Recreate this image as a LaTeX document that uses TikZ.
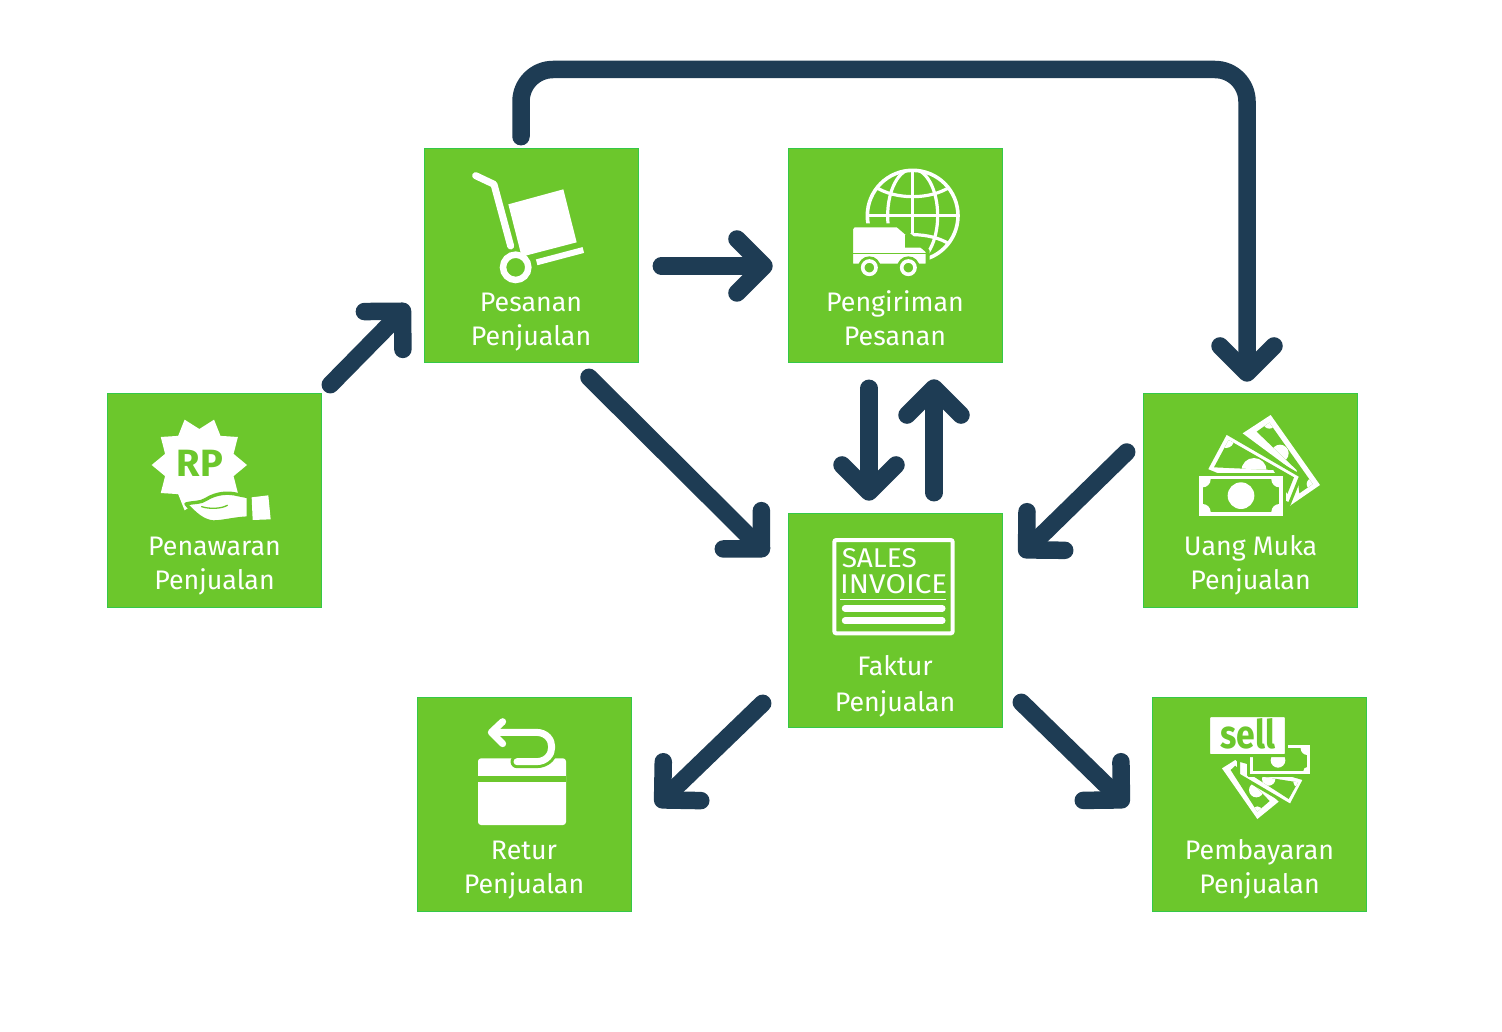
\documentclass[tikz,border=0pt]{standalone}
\usepackage{fontspec}
\setmainfont{Fira Sans}
\usetikzlibrary{arrows.meta}
\definecolor{boxgreen}{RGB}{108,199,44}
\definecolor{boxedge}{RGB}{52,200,72}
\definecolor{navy}{RGB}{30,60,84}
\tikzset{
  flowbox/.style={draw=boxedge,line width=1.6pt,fill=boxgreen,minimum size=214pt,inner sep=0pt,outer sep=0.8pt},
  caption/.style={text=white,align=center,inner sep=0pt,font=\fontsize{26.8}{34}\selectfont},
  conn/.style={draw=navy,line width=17.5pt,line cap=round,line join=round,
    -{Straight Barb[round,length=27pt,width=54pt]}},
  zm/.style={x=.33333pt,y=-.33333pt},
  ink/.style={fill=white,draw=none},
  cut/.style={fill=boxgreen,draw=none},
  halo/.style={fill=white,draw=boxgreen,line width=3pt,line join=round},
  stroke/.style={draw=white,line cap=round,line join=round},
  gstroke/.style={draw=boxgreen,line cap=round,line join=round},
}
\begin{document}
\begin{tikzpicture}[x=1pt,y=-1pt]
\useasboundingbox (0,0) rectangle (1502,1032);
\fill[white] (0,0) rectangle (1502,1032);
% boxes
\node[flowbox] (pen) at (214.5,500.5) {};
\node[flowbox] (pes) at (531.5,255.5) {};
\node[flowbox] (kir) at (895.5,255.5) {};
\node[flowbox] (uang) at (1250.5,500.5) {};
\node[flowbox] (fak) at (895.5,620.5) {};
\node[flowbox] (ret) at (524.5,804.5) {};
\node[flowbox] (bay) at (1259.5,804.5) {};
% captions
\node[caption] (penc) at (214.5,566) {Penawaran\\Penjualan};
\node[caption] (pesc) at (531,322) {Pesanan\\Penjualan};
\node[caption] (kirc) at (895,318) {Pengiriman\\Pesanan};
\node[caption] (uangc) at (1250.5,565) {Uang Muka\\Penjualan};
\node[caption,font=\fontsize{26.8}{36}\selectfont] (fakc) at (895,686) {Faktur\\Penjualan};
\node[caption] (retc) at (524,870) {Retur\\Penjualan};
\node[caption] (bayc) at (1259.5,869) {Pembayaran\\Penjualan};
% connectors
\coordinate (toprun) at (880,69.5);
\draw[conn] ([shift={(8,-8)}]pen.north east) -- ([shift={(-15,49.5)}]pes.west);
\draw[conn] ([shift={(22,10.5)}]pes.east) -- ([shift={(-15,10.5)}]kir.west);
\draw[conn] ([shift={(-26.5,25)}]kir.south) -- ([shift={(-26.5,-12)}]fak.north);
\draw[conn] ([shift={(38.5,-20)}]fak.north) -- ([shift={(38.5,16)}]kir.south);
\draw[conn] ([shift={(57.5,14)}]pes.south) -- ([shift={(-20,-65.5)}]fak.west);
\draw[conn] ([shift={(-16,-48.5)}]uang.west) -- ([shift={(17,-64.5)}]fak.east);
\draw[conn] ([shift={(-25,-25)}]fak.south west) -- ([shift={(24,1.5)}]ret.east);
\draw[conn] ([shift={(18,-26)}]fak.south east) -- ([shift={(-24,1.5)}]bay.west);
\coordinate (ta) at ([shift={(-10.5,-11)}]pes.north);
\coordinate (tb) at ([shift={(-3.5,-11)}]uang.north);
\draw[conn,rounded corners=32pt] (ta) -- (ta |- toprun) -- (tb |- toprun) -- (tb);
% icon: Penawaran
\begin{scope}[shift={(100,390)},zm]
\fill[ink] plot[samples at={0,18,...,342},variable=\t]
  ({298+(mod(round(\t),36)==0?143:108)*cos(\t)},{225+(mod(round(\t),36)==0?143:108)*sin(\t)}) -- cycle;
\node[text=boxgreen,inner sep=0pt,font=\fontsize{38}{38}\selectfont\bfseries] (rp) at (300,220) {RP};
\path[halo,line width=3.4pt] (258,342) .. controls (285,335) and (300,340) .. (318,328) .. controls (350,308) and (385,306) .. (415,314) -- (445,320) -- (445,384) .. controls (400,386) and (370,396) .. (340,396) .. controls (310,394) and (285,372) .. (258,342) -- cycle;
\draw[gstroke,line width=1.3pt] (305,350) .. controls (330,358) and (365,356) .. (382,346);
\fill[ink] (455,322) -- (505,316) -- (512,388) -- (458,390) -- cycle;
\end{scope}
% icon: Pesanan
\begin{scope}[shift={(420,145)},zm]
\draw[stroke,line width=7pt] (167,92) -- (222,118) -- (272,303);
\fill[ink] (265,178) -- (430,133) -- (470,292) -- (305,335) -- cycle;
\draw[draw=white,line width=6pt] (350,352) -- (490,315);
\draw[draw=white,line width=6.5pt] (287,367) circle[radius=38];
\end{scope}
% icon: Pengiriman
\begin{scope}[shift={(785,145)},zm]
\begin{scope}
\clip (383,212) circle[radius=140];
\draw[draw=white,line width=3.2pt] (383,72) -- (383,352);
\draw[draw=white,line width=3.2pt] (243,212) -- (523,212);
\draw[draw=white,line width=3.2pt] (383,212) ellipse[x radius=75,y radius=140];
\draw[draw=white,line width=3.2pt] (270,125) .. controls (330,165) and (436,165) .. (496,125);
\draw[draw=white,line width=3.2pt] (270,299) .. controls (330,259) and (436,259) .. (496,299);
\end{scope}
\draw[draw=white,line width=3.6pt] (383,212) circle[radius=136];
\path[fill=white,draw=boxgreen,line width=4pt,line join=round] (198,250) -- (206,241) -- (338,241) -- (428,318) -- (428,362) -- (198,362) -- cycle;
\draw[gstroke,line width=1pt] (203,326) -- (424,326);
\fill[cut] (360,270) -- (374,270) -- (408,308) -- (360,308) -- cycle;
\foreach \wx in {253,370}{
  \fill[cut] (\wx,368) circle[radius=34];
  \draw[draw=white,line width=3.6pt] (\wx,368) circle[radius=20];
}
\end{scope}
% icon: Uang Muka
\begin{scope}[shift={(1140,390)},zm]
\fill[ink] (308,130) -- (392,75) -- (540,285) -- (450,347) -- (470,250) -- cycle;
\begin{scope}
\clip (350,125) -- (388,98) -- (518,282) -- (478,310) -- (470,240) -- cycle;
\fill[cut] (300,60) rectangle (540,340);
\fill[ink] (420,190) circle[radius=26];
\fill[ink] (388,98) circle[radius=18];
\fill[ink] (518,282) circle[radius=18];
\end{scope}
\path[halo] (198,240) -- (258,128) -- (482,258) -- (448,342) -- cycle;
\begin{scope}
\clip (222,232) -- (266,150) -- (462,262) -- (442,312) -- (400,240) -- cycle;
\fill[cut] (190,120) rectangle (490,345);
\fill[ink] (258,150) circle[radius=24];
\fill[ink] (342,242) circle[radius=38];
\end{scope}
\path[halo] (172,253) rectangle (433,382);
\begin{scope}
\clip (188,268) rectangle (418,366);
\fill[cut] (188,268) rectangle (418,366);
\foreach \cx/\cy in {188/268,418/268,188/366,418/366}{\fill[ink] (\cx,\cy) circle[radius=24];}
\end{scope}
\fill[ink] (303,317) circle[radius=40];
\end{scope}
% icon: Faktur
\begin{scope}[shift={(785,510)},zm]
\draw[draw=white,line width=4pt,rounded corners=2pt] (148,90) rectangle (503,370);
\node[text=white,inner sep=0pt] (sales) at (283,143) {\resizebox{75pt}{19pt}{SALES}};
\node[text=white,inner sep=0pt] (invoice) at (326,222) {\resizebox{107pt}{19pt}{INVOICE}};
\draw[draw=white,line width=1.6pt] (165,268) -- (482,268);
\draw[stroke,line width=6.4pt] (180,295) -- (472,295);
\draw[stroke,line width=6.4pt] (180,332) -- (472,332);
\end{scope}
% icon: Retur
\begin{scope}[shift={(412,695)},zm]
\fill[ink,rounded corners=3pt] (198,190) rectangle (462,390);
\fill[cut] (198,242) rectangle (462,262);
\draw[gstroke,line width=13pt] (315,200) -- (372,200) .. controls (435,200) and (435,112) .. (372,112) -- (245,112);
\draw[stroke,line width=7pt] (315,200) -- (372,200) .. controls (435,200) and (435,112) .. (372,112) -- (245,112);
\draw[stroke,line width=7pt] (272,80) -- (238,112) -- (272,146);
\end{scope}
% icon: Pembayaran
\begin{scope}[shift={(1148,695)},zm]
\fill[ink] (222,220) -- (262,195) -- (392,320) -- (328,372) -- cycle;
\begin{scope}
\clip (248,225) -- (262,212) -- (365,318) -- (328,350) -- cycle;
\fill[cut] (220,190) rectangle (400,375);
\fill[ink] (325,285) circle[radius=22];
\fill[ink] (328,350) circle[radius=16];
\end{scope}
\path[halo] (272,195) -- (470,252) -- (428,332) -- (272,240) -- cycle;
\begin{scope}
\clip (310,240) -- (450,262) -- (422,312) -- cycle;
\fill[cut] (300,230) rectangle (460,320);
\fill[ink] (362,252) circle[radius=20];
\fill[ink] (450,262) circle[radius=14];
\end{scope}
\path[halo] (300,145) rectangle (490,240);
\begin{scope}
\clip (315,160) rectangle (478,228);
\fill[cut] (315,160) rectangle (478,228);
\fill[ink] (390,196) circle[radius=22];
\fill[ink] (478,160) circle[radius=20];
\fill[ink] (478,228) circle[radius=12];
\end{scope}
\path[halo,rounded corners=2pt] (182,62) rectangle (415,182);
\node[text=boxgreen,inner sep=0pt] (sell) at (300,116) {\resizebox{55pt}{30pt}{\bfseries sell}};
\end{scope}
\end{tikzpicture}
\end{document}
